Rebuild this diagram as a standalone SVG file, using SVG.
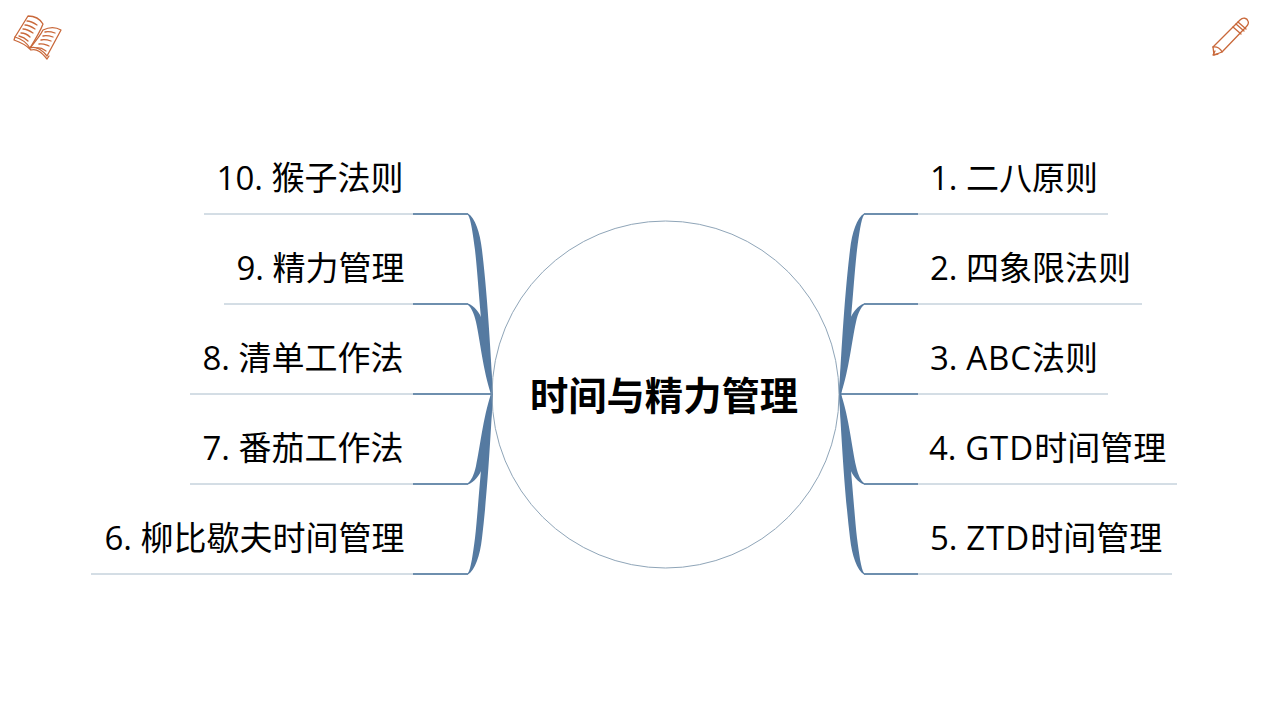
<svg xmlns="http://www.w3.org/2000/svg" xmlns:xlink="http://www.w3.org/1999/xlink" width="1268" height="714" viewBox="0 0 1268 714">
<style>
.t{font-family:"Open Sans","Noto Sans CJK SC","Noto Sans",sans-serif;font-size:33px;fill:#000}
.e{text-anchor:end}
.w{letter-spacing:1px}
.title{font-family:"Noto Sans CJK SC",sans-serif;font-size:38.300px;font-weight:700;fill:#000;text-anchor:middle}
.thin{stroke:#a9bccb;stroke-width:1;fill:none}
.dark{stroke:#6e8fae;stroke-width:2;fill:none}
.b{fill:#557aa1}
.ic{fill:none;stroke:#c9683a;stroke-width:1.3;stroke-linejoin:round;stroke-linecap:round}
</style>
<defs>
<g id="fan">
<path class="b" d="M839 394C841 360 844 300 850 250C852 232 857 218 864 213.500V215C861 219 859 235 857 250C853 285 851 340 841 394Z"/>
<path class="b" d="M839 394C841 370 842 345 849 322C852 312 858 306 864 303.500V305C861 307 858 313 856 322C852 340 849 370 841 394Z"/>
</g>
</defs>
<rect width="1268" height="714" fill="#fff"/>
<g id="connectors">
<path class="thin" d="M864 214H1108M864 304H1142M840 394H1108M864 484H1177M864 574H1172"/>
<path class="dark" d="M864 214H918M864 304H918M840 394H918M864 484H918M864 574H918"/>
<path class="thin" d="M468 214H204M468 304H224M492 394H190M468 484H190M468 574H91"/>
<path class="dark" d="M468 214H413M468 304H413M492 394H413M468 484H413M468 574H413"/>
<use xlink:href="#fan" href="#fan"/>
<use xlink:href="#fan" href="#fan" transform="matrix(1 0 0 -1 0 788)"/>
<use xlink:href="#fan" href="#fan" transform="matrix(-1 0 0 1 1332 0)"/>
<use xlink:href="#fan" href="#fan" transform="matrix(-1 0 0 -1 1332 788)"/>
</g>
<g id="center"><circle cx="665.500" cy="394.500" r="173.500" fill="none" stroke="#8fa5b8" stroke-width="1"/><text class="title" x="664" y="410">时间与精力管理</text></g>
<g id="n1"><text class="t" x="930" y="190">1. 二八原则</text></g>
<g id="n2"><text class="t" x="930" y="280">2. 四象限法则</text></g>
<g id="n3"><text class="t" x="930" y="370">3. <tspan class="w">ABC</tspan>法则</text></g>
<g id="n4"><text class="t" x="929" y="460">4. <tspan class="w">GTD</tspan>时间管理</text></g>
<g id="n5"><text class="t" x="930" y="550">5. <tspan class="w">ZTD</tspan>时间管理</text></g>
<g id="n10"><text class="t e" x="403.500" y="190">10. 猴子法则</text></g>
<g id="n9"><text class="t e" x="404.500" y="280">9. 精力管理</text></g>
<g id="n8"><text class="t e" x="403.500" y="370">8. 清单工作法</text></g>
<g id="n7"><text class="t e" x="403.500" y="460">7. 番茄工作法</text></g>
<g id="n6"><text class="t e" x="404.500" y="550">6. 柳比歇夫时间管理</text></g>
<g id="icon-book" class="ic">
<path d="M30 48C26 42 22 39 15 37L28 16C35 16 40 19 43 24C40 32 35 40 30 48Z"/>
<path d="M30 48C36 46 42 50 47 56L61 30C56 27 49 27 43 30C40 36 35 42 30 48Z"/>
<path d="M15 37L14 40C20 42 26 45 31 50C37 48 42 53 47 59L49 56"/>
<path d="M27 21C31 21 34 23 37 25M25 25C29 25 32 27 35 29M23 29C27 29 30 31 33 33M21 33C25 33 28 35 30 37M19 36C23 37 26 39 28 41"/>
<path d="M45 32C49 31 52 32 55 33M43 36C47 35 50 36 53 37M41 40C45 39 48 40 51 41M39 44C43 43 46 45 49 46M37 48C41 47 43 49 46 51"/>
</g>
<g id="icon-pencil" class="ic">
<path d="M1240 20C1243 17 1247 18 1248 21C1249 23 1248 25 1246 27L1222 52L1214 55L1213 47Z"/>
<path d="M1213 47C1217 46 1221 49 1222 52M1215 51L1213 55L1218 54"/>
<path d="M1236 24L1244 31M1238 22L1246 29M1233 27L1241 34"/>
</g>
</svg>
